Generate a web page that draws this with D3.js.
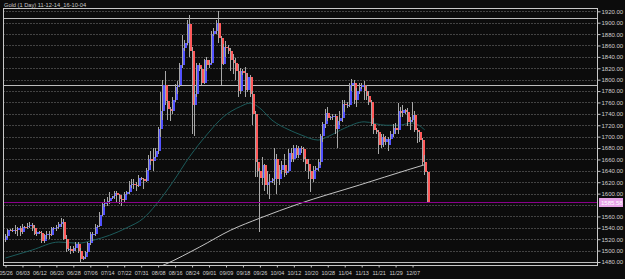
<!DOCTYPE html>
<html><head><meta charset="utf-8">
<script src="https://cdn.jsdelivr.net/npm/d3@7"></script>
<style>html,body{margin:0;padding:0;background:#0c0c0c;overflow:hidden}svg{display:block}</style>
</head><body><svg id="c" width="625" height="279"></svg>
<script>
const title = "Gold (1 Day) 11-12-14_16-10-04";
const dates = ["05/26","05/27","05/29","05/30","05/31","06/01","06/02","06/03","06/05","06/06","06/07","06/08","06/09","06/10","06/12","06/13","06/14","06/15","06/16","06/17","06/19","06/20","06/21","06/22","06/23","06/24","06/26","06/27","06/28","06/29","06/30","07/01","07/03","07/04","07/05","07/06","07/07","07/08","07/10","07/11","07/12","07/13","07/14","07/15","07/17","07/18","07/19","07/20","07/21","07/22","07/24","07/25","07/26","07/27","07/28","07/29","07/31","08/01","08/02","08/03","08/04","08/05","08/07","08/08","08/09","08/10","08/11","08/12","08/14","08/15","08/16","08/17","08/18","08/19","08/21","08/22","08/23","08/24","08/25","08/26","08/28","08/29","08/30","08/31","09/01","09/02","09/04","09/05","09/06","09/07","09/08","09/09","09/11","09/12","09/13","09/14","09/15","09/16","09/18","09/19","09/20","09/21","09/22","09/23","09/25","09/26","09/27","09/28","09/29","09/30","10/02","10/03","10/04","10/05","10/06","10/07","10/09","10/10","10/11","10/12","10/13","10/14","10/16","10/17","10/18","10/19","10/20","10/21","10/23","10/24","10/25","10/26","10/27","10/28","10/29","10/30","10/31","11/01","11/02","11/03","11/04","11/06","11/07","11/08","11/09","11/10","11/11","11/13","11/14","11/15","11/16","11/17","11/18","11/20","11/21","11/22","11/23","11/24","11/25","11/27","11/28","11/29","11/30","12/01","12/02","12/04","12/05","12/06","12/07","12/08","12/09","12/11","12/12","12/13","12/14"];
const openP  = [1518,1526,1536,1535,1537,1536,1540,1532,1542,1541,1544,1545,1540,1529,1532,1531,1516,1527,1530,1528,1539,1540,1542,1546,1550,1520,1502,1503,1500,1505,1512,1500,1486,1488,1497,1513,1529,1530,1542,1543,1563,1582,1585,1587,1592,1595,1601,1598,1590,1588,1600,1602,1615,1617,1615,1614,1628,1625,1623,1642,1660,1657,1664,1674,1713,1745,1790,1762,1748,1745,1765,1787,1791,1825,1855,1865,1898,1850,1755,1775,1826,1818,1795,1834,1826,1830,1880,1885,1900,1873,1828,1858,1855,1850,1835,1830,1815,1780,1815,1812,1782,1805,1775,1740,1656,1640,1628,1650,1615,1620,1622,1625,1660,1625,1642,1650,1636,1640,1672,1660,1680,1668,1680,1678,1660,1652,1640,1625,1642,1645,1655,1702,1722,1742,1732,1734,1736,1714,1728,1732,1758,1755,1756,1790,1795,1765,1780,1788,1790,1780,1772,1760,1722,1712,1708,1685,1700,1690,1686,1696,1705,1715,1712,1745,1742,1746,1743,1725,1730,1738,1712,1708,1694,1655,1638];
const highP  = [1529,1538,1538,1540,1545,1542,1543,1546,1544,1548,1550,1549,1545,1535,1534,1534,1530,1534,1535,1542,1541,1545,1550,1557,1555,1527,1505,1508,1508,1515,1515,1504,1490,1500,1515,1532,1533,1547,1545,1567,1585,1590,1594,1602,1596,1605,1604,1600,1598,1602,1604,1622,1625,1626,1620,1632,1630,1628,1645,1667,1675,1680,1680,1717,1778,1800,1815,1765,1752,1770,1793,1797,1830,1878,1870,1905,1913,1858,1790,1830,1830,1822,1837,1840,1835,1885,1890,1905,1921,1876,1862,1867,1860,1855,1845,1838,1828,1820,1818,1822,1812,1808,1780,1745,1660,1645,1665,1652,1640,1635,1628,1680,1670,1650,1658,1670,1642,1678,1680,1686,1685,1684,1684,1682,1665,1660,1642,1648,1648,1660,1705,1725,1748,1752,1736,1740,1740,1735,1745,1765,1765,1760,1795,1802,1800,1785,1795,1795,1797,1790,1780,1765,1732,1716,1712,1705,1705,1702,1700,1710,1722,1724,1759,1752,1756,1748,1750,1735,1761,1745,1716,1710,1698,1668,1640];
const lowP   = [1515,1522,1534,1532,1530,1525,1526,1530,1540,1538,1540,1535,1527,1525,1530,1514,1514,1520,1520,1525,1537,1535,1538,1542,1518,1498,1500,1494,1495,1500,1496,1478,1484,1486,1495,1510,1517,1525,1540,1541,1560,1576,1578,1582,1590,1590,1585,1582,1578,1585,1598,1600,1610,1608,1605,1612,1624,1608,1620,1640,1650,1640,1662,1670,1700,1730,1755,1730,1727,1740,1760,1775,1788,1820,1850,1860,1840,1705,1702,1770,1815,1790,1793,1815,1820,1828,1876,1880,1865,1790,1825,1840,1845,1815,1810,1800,1770,1775,1808,1770,1778,1770,1720,1630,1630,1533,1615,1605,1600,1590,1618,1615,1600,1615,1635,1630,1632,1638,1655,1655,1663,1662,1672,1655,1640,1625,1603,1620,1640,1640,1650,1690,1715,1728,1730,1730,1705,1680,1720,1725,1743,1750,1752,1780,1758,1752,1775,1784,1765,1765,1755,1718,1705,1705,1670,1680,1682,1685,1675,1694,1700,1705,1705,1735,1735,1740,1718,1712,1725,1708,1688,1690,1650,1632,1584];
const closeP = [1526,1536,1535,1537,1536,1540,1532,1542,1541,1544,1545,1540,1529,1532,1531,1516,1527,1530,1528,1539,1540,1542,1546,1550,1520,1502,1503,1500,1505,1512,1500,1486,1488,1497,1513,1529,1530,1542,1543,1563,1582,1585,1587,1592,1595,1601,1598,1590,1588,1600,1602,1615,1617,1615,1614,1628,1625,1623,1642,1660,1657,1664,1674,1713,1745,1790,1762,1748,1745,1765,1787,1791,1825,1855,1865,1898,1850,1755,1775,1826,1818,1795,1834,1826,1830,1880,1885,1900,1873,1828,1858,1855,1850,1835,1830,1815,1780,1815,1812,1782,1805,1775,1740,1656,1640,1628,1650,1615,1620,1622,1625,1660,1625,1642,1650,1636,1640,1672,1660,1680,1668,1680,1678,1660,1652,1640,1625,1642,1645,1655,1702,1722,1742,1732,1734,1736,1714,1728,1732,1758,1755,1756,1790,1795,1765,1780,1788,1790,1780,1772,1760,1722,1712,1708,1685,1700,1690,1695,1696,1705,1715,1712,1745,1742,1746,1743,1725,1730,1738,1712,1708,1694,1655,1638,1585.58];
const xTickLabels = ["05/26","06/03","06/12","06/20","06/28","07/06","07/14","07/22","07/31","08/08","08/16","08/24","09/01","09/09","09/18","09/26","10/04","10/12","10/20","10/28","11/04","11/13","11/21","11/29","12/07"];
const gridLevels = [1500,1520,1540,1560,1580,1600,1620,1640,1660,1680,1700,1720,1740,1760,1780,1800,1820,1840,1860,1880,1900,1920];
const yTickLabels = [1480,1500,1520,1540,1560,1600,1620,1640,1660,1680,1700,1720,1740,1760,1780,1800,1820,1840,1860,1880,1900,1920];
const levelLines = [1907.7, 1790.7, 1480];
const lastPrice = 1585.58;
const maFastIdx = [0,11,22,30,36,43,50,57,62,69,76,83,90,97,101,105,110,117,122,129,133,140,148,157,162,168,173];
const maFastVal = [1487,1501,1515,1513,1518,1527,1540,1557,1580,1620,1665,1703,1735,1753,1759,1750,1729,1712,1703,1694,1700,1715,1726,1720,1720,1724,1712];
const maSlowIdx = [58,66,80,93,105,121,146,167,174];
const maSlowVal = [1462,1476,1506,1536,1557,1582,1615,1643,1652];

const W=625,H=279,L=3.5,R=597.5,T=8.5,B=265.5;
const svg = d3.select("#c");
svg.append("rect").attr("width",W).attr("height",H).attr("fill","#0c0c0c");
const x = d3.scaleLinear().domain([0, dates.length-1]).range([5.5, 427.1]);
const y = d3.scaleLinear().domain([1480,1920]).range([262, 11.3]);
const py = v => Math.round(y(v)) + 0.5;

svg.append("defs").append("clipPath").attr("id","clip")
  .append("rect").attr("x",L).attr("y",T).attr("width",R-L).attr("height",B-T);

// grid
svg.append("g").selectAll("line").data(gridLevels).join("line")
  .attr("x1",L).attr("x2",R).attr("y1",py).attr("y2",py)
  .attr("stroke","#7a7a7a").attr("stroke-dasharray","1,2");
// level lines
svg.append("g").selectAll("line").data(levelLines).join("line")
  .attr("x1",L).attr("x2",R).attr("y1",py).attr("y2",py)
  .attr("stroke","#bdbdbd").attr("stroke-width",1);

const plot = svg.append("g").attr("clip-path","url(#clip)");
// moving averages
const lineGen = d3.line().x(d=>x(d[0])).y(d=>y(d[1])).curve(d3.curveMonotoneX);
plot.append("path").datum(maFastIdx.map((d,i)=>[d,maFastVal[i]]))
  .attr("d",lineGen).attr("fill","none").attr("stroke","#1d5c5c").attr("stroke-width",1);
plot.append("path").datum(maSlowIdx.map((d,i)=>[d,maSlowVal[i]]))
  .attr("d",lineGen).attr("fill","none").attr("stroke","#c4c4c4").attr("stroke-width",1);

// candles
const cg = plot.append("g");
dates.forEach((d,i)=>{
  const px = Math.floor(x(i));
  const o=openP[i], c=closeP[i], h=highP[i], l=lowP[i];
  const yt = Math.round(y(Math.max(o,c))), yb = Math.round(y(Math.min(o,c)));
  const col = c>o ? "#5252ff" : (c<o ? "#ff5a5a" : "#b0b0b0");
  cg.append("rect").attr("x",px).attr("y",yt).attr("width",3).attr("height",Math.max(1,yb-yt)).attr("fill",col);
  const wt = Math.round(y(h)), wb = Math.round(y(l));
  cg.append("rect").attr("x",px).attr("y",wt).attr("width",1).attr("height",Math.max(1,wb-wt)).attr("fill","#a8a8a8");
});

// last price line
svg.append("line").attr("x1",L).attr("x2",R).attr("y1",py(lastPrice)).attr("y2",py(lastPrice))
  .attr("stroke","#8a008a").attr("stroke-width",1);

// frame
svg.append("rect").attr("x",L).attr("y",T).attr("width",R-L).attr("height",B-T)
  .attr("fill","none").attr("stroke","#c8c8c8").attr("stroke-width",1);

// y axis
const ya = svg.append("g").attr("transform",`translate(${R},0)`)
  .call(d3.axisRight(y).tickValues(yTickLabels).tickSize(3).tickPadding(1).tickFormat(d3.format(".2f")));
ya.select(".domain").remove();
ya.selectAll("line").attr("stroke","#c8c8c8");
ya.selectAll("text").attr("fill","#cfcfcf").style("font-family","'Liberation Sans',Arial,sans-serif").style("font-size","6px");

// price label
const lp = Math.round(y(lastPrice));
svg.append("rect").attr("x",599).attr("y",lp-4).attr("width",24).attr("height",9).attr("fill","#e8a2e8");
svg.append("text").attr("x",601).attr("y",lp+2.5).text(d3.format(".2f")(lastPrice))
  .attr("fill","#ffffff").style("font-family","'Liberation Sans',Arial,sans-serif").style("font-size","6px");

// x axis
const tickIdx = xTickLabels.map(t=>dates.indexOf(t));
const xa = svg.append("g").attr("transform",`translate(0,${B})`)
  .call(d3.axisBottom(x).tickValues(tickIdx).tickSize(2).tickPadding(3.5).tickFormat(i=>dates[i]));
xa.select(".domain").remove();
xa.selectAll("line").attr("stroke","#c8c8c8");
xa.selectAll("text").attr("fill","#cfcfcf").style("font-family","'Liberation Sans',Arial,sans-serif").style("font-size","5.5px");

// title
svg.append("text").attr("x",4).attr("y",7).text(title)
  .attr("fill","#c8c8c8").style("font-family","'Liberation Sans',Arial,sans-serif").style("font-size","5.7px");
</script></body></html>
